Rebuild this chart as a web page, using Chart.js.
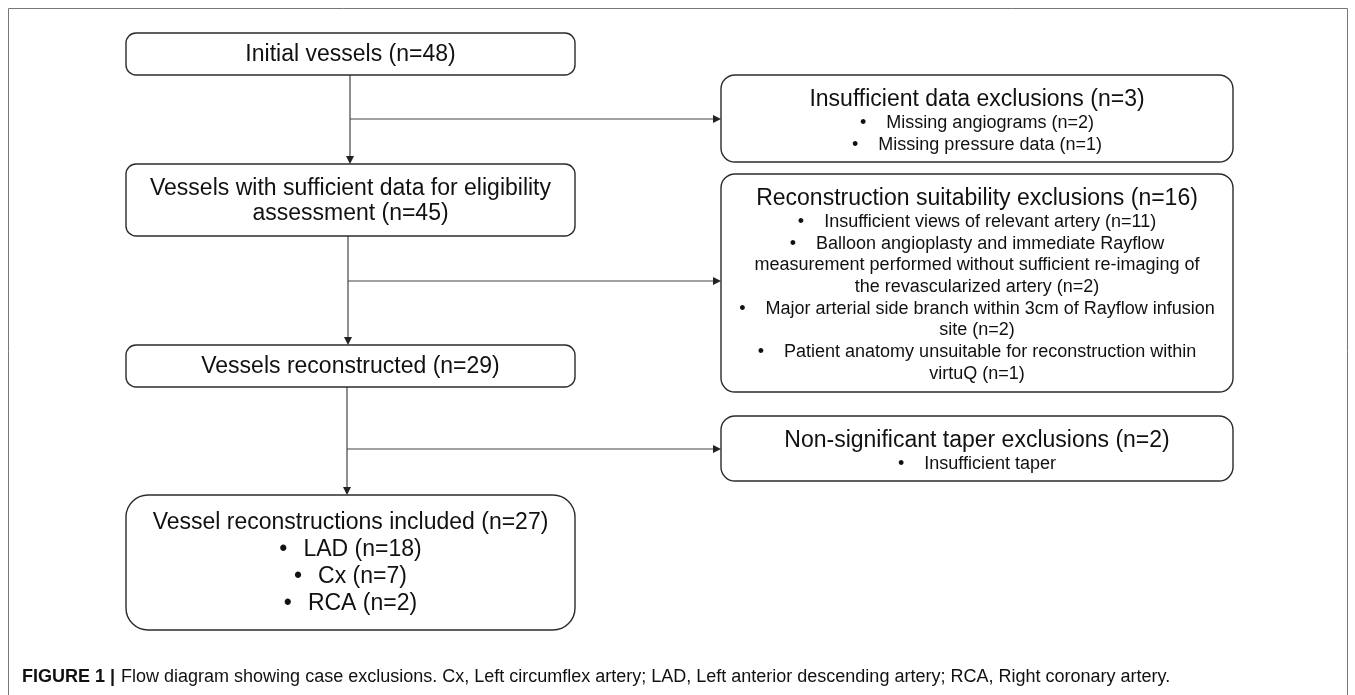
<!DOCTYPE html>
<html>
<head>
<meta charset="utf-8">
<script src="https://cdn.jsdelivr.net/npm/chart.js@4/dist/chart.umd.min.js"></script>
<style>
  html, body { margin: 0; padding: 0; background: #fff; }
  #wrap { width: 1355px; height: 695px; position: relative; }
</style>
</head>
<body>
<div id="wrap"><canvas id="flow"></canvas></div>
<script>
// flow stages (left column)
const stageLabels = ['Initial vessels', 'Vessels with sufficient data for eligibility\nassessment', 'Vessels reconstructed', 'Vessel reconstructions included'];
const stageN = [48, 45, 29, 27];
const vesselTypes = ['LAD', 'Cx', 'RCA'];
const vesselN = [18, 7, 2];

// exclusions (right column)
const exclusionLabels = ['Insufficient data exclusions', 'Reconstruction suitability exclusions', 'Non-significant taper exclusions'];
const exclusionN = [3, 16, 2];
const reasonLabels = [
    ['Missing angiograms', 'Missing pressure data'],
    ['Insufficient views of relevant artery',
     'Balloon angioplasty and immediate Rayflow\nmeasurement performed without sufficient re-imaging of\nthe revascularized artery',
     'Major arterial side branch within 3cm of Rayflow infusion\nsite',
     'Patient anatomy unsuitable for reconstruction within\nvirtuQ'],
    ['Insufficient taper']
];
const reasonN = [[2, 1], [11, 2, 2, 1], [null]];

const captionBold = 'FIGURE 1 |';
const captionText = 'Flow diagram showing case exclusions. Cx, Left circumflex artery; LAD, Left anterior descending artery; RCA, Right coronary artery.';

// layout (page units)
const leftBoxes = [
    { x0: 126, x1: 575, y0: 33, y1: 75, r: 10, lh: 27 },
    { x0: 126, x1: 575, y0: 164, y1: 236, r: 10, lh: 25 },
    { x0: 126, x1: 575, y0: 345, y1: 387, r: 10, lh: 27 },
    { x0: 126, x1: 575, y0: 495, y1: 630, r: 22, lh: 27 },
];
const rightBoxes = [
    { x0: 721, x1: 1233, y0: 75, y1: 162, r: 14 },
    { x0: 721, x1: 1233, y0: 174, y1: 392, r: 14 },
    { x0: 721, x1: 1233, y0: 416, y1: 481, r: 14 },
];
const trunkX = [350, 348, 347];
const branchY = [119, 281, 449];

const FONT = '"Liberation Sans", Arial, sans-serif';
const withN = (label, n) => n == null ? label : label + ' (n=' + n + ')';

function roundRect(ctx, x0, y0, x1, y1, r) {
    ctx.beginPath();
    ctx.moveTo(x0 + r, y0);
    ctx.lineTo(x1 - r, y0);
    ctx.arcTo(x1, y0, x1, y0 + r, r);
    ctx.lineTo(x1, y1 - r);
    ctx.arcTo(x1, y1, x1 - r, y1, r);
    ctx.lineTo(x0 + r, y1);
    ctx.arcTo(x0, y1, x0, y1 - r, r);
    ctx.lineTo(x0, y0 + r);
    ctx.arcTo(x0, y0, x0 + r, y0, r);
    ctx.closePath();
    ctx.fillStyle = '#fff';
    ctx.fill();
    ctx.strokeStyle = '#2b2b2b';
    ctx.lineWidth = 1.4;
    ctx.stroke();
}

// centred line, optionally preceded by a bullet
function drawLine(ctx, text, cx, cy, size, bullet, gap) {
    ctx.font = size + 'px ' + FONT;
    ctx.textBaseline = 'middle';
    ctx.fillStyle = '#111';
    const tw = ctx.measureText(text).width;
    if (!bullet) {
        ctx.textAlign = 'center';
        ctx.fillText(text, cx, cy);
        return;
    }
    const bw = ctx.measureText('•').width;
    const total = bw + gap + tw;
    const left = cx - total / 2;
    ctx.textAlign = 'left';
    ctx.fillText('•', left, cy);
    ctx.fillText(text, left + bw + gap, cy);
}

function arrow(ctx, x, y, dir) {
    ctx.beginPath();
    if (dir === 'down') {
        ctx.moveTo(x, y); ctx.lineTo(x - 4, y - 8); ctx.lineTo(x + 4, y - 8);
    } else {
        ctx.moveTo(x, y); ctx.lineTo(x - 8, y - 4); ctx.lineTo(x - 8, y + 4);
    }
    ctx.closePath();
    ctx.fillStyle = '#222';
    ctx.fill();
}

const flowPlugin = {
    id: 'flow',
    afterDraw(chart) {
        const ctx = chart.ctx;
        const sx = v => chart.scales.x.getPixelForValue(v);
        const sy = v => chart.scales.y.getPixelForValue(v);
        ctx.save();

        // figure frame
        ctx.strokeStyle = '#777';
        ctx.lineWidth = 1;
        ctx.beginPath();
        ctx.moveTo(sx(8) + 0.5, sy(695));
        ctx.lineTo(sx(8) + 0.5, sy(8) + 0.5);
        ctx.lineTo(sx(1347) + 0.5, sy(8) + 0.5);
        ctx.lineTo(sx(1347) + 0.5, sy(695));
        ctx.stroke();

        // connectors
        ctx.strokeStyle = '#444';
        ctx.lineWidth = 1.2;
        for (let i = 0; i < trunkX.length; i++) {
            const tx = sx(trunkX[i]);
            const top = sy(leftBoxes[i].y1);
            const bot = sy(leftBoxes[i + 1].y0);
            const by = sy(branchY[i]);
            const rx = sx(rightBoxes[i].x0);
            ctx.beginPath();
            ctx.moveTo(tx, top); ctx.lineTo(tx, bot - 2);
            ctx.moveTo(tx, by); ctx.lineTo(rx - 2, by);
            ctx.stroke();
            arrow(ctx, tx, bot, 'down');
            arrow(ctx, rx, by, 'right');
        }

        // left column boxes
        stageLabels.forEach((label, i) => {
            const b = leftBoxes[i];
            roundRect(ctx, sx(b.x0), sy(b.y0), sx(b.x1), sy(b.y1), b.r);
            const cx = (sx(b.x0) + sx(b.x1)) / 2;
            const lines = withN(label, stageN[i]).split('\n').map(t => ({ t, bullet: false }));
            if (i === stageLabels.length - 1) {
                vesselTypes.forEach((v, j) => lines.push({ t: withN(v, vesselN[j]), bullet: true }));
            }
            const cy = (sy(b.y0) + sy(b.y1)) / 2 + 1;
            lines.forEach((ln, k) => {
                drawLine(ctx, ln.t, cx, cy + (k - (lines.length - 1) / 2) * b.lh, 23, ln.bullet, 16);
            });
        });

        // right column boxes
        exclusionLabels.forEach((label, i) => {
            const b = rightBoxes[i];
            roundRect(ctx, sx(b.x0), sy(b.y0), sx(b.x1), sy(b.y1), b.r);
            const cx = (sx(b.x0) + sx(b.x1)) / 2;
            let y = sy(b.y0) + 25;
            drawLine(ctx, withN(label, exclusionN[i]), cx, y, 23, false);
            y += 23;
            reasonLabels[i].forEach((reason, j) => {
                withN(reason, reasonN[i][j]).split('\n').forEach((t, k) => {
                    drawLine(ctx, t, cx, y, 18, k === 0, 20);
                    y += 21.7;
                });
            });
        });

        // caption
        const capY = sy(677);
        ctx.textAlign = 'left';
        ctx.textBaseline = 'middle';
        ctx.fillStyle = '#111';
        ctx.font = 'bold 18px ' + FONT;
        ctx.fillText(captionBold, sx(22), capY);
        const bw = ctx.measureText(captionBold).width;
        ctx.font = '18px ' + FONT;
        ctx.fillText(captionText, sx(22) + bw + 6, capY);

        ctx.restore();
    }
};

new Chart(document.getElementById('flow'), {
    type: 'scatter',
    data: { datasets: [] },
    options: {
        responsive: true,
        maintainAspectRatio: false,
        animation: false,
        layout: { padding: 0 },
        plugins: { legend: { display: false }, tooltip: { enabled: false } },
        scales: {
            x: { type: 'linear', min: 0, max: 1355, display: false },
            y: { type: 'linear', min: 0, max: 695, reverse: true, display: false }
        }
    },
    plugins: [flowPlugin]
});
</script>
</body>
</html>
